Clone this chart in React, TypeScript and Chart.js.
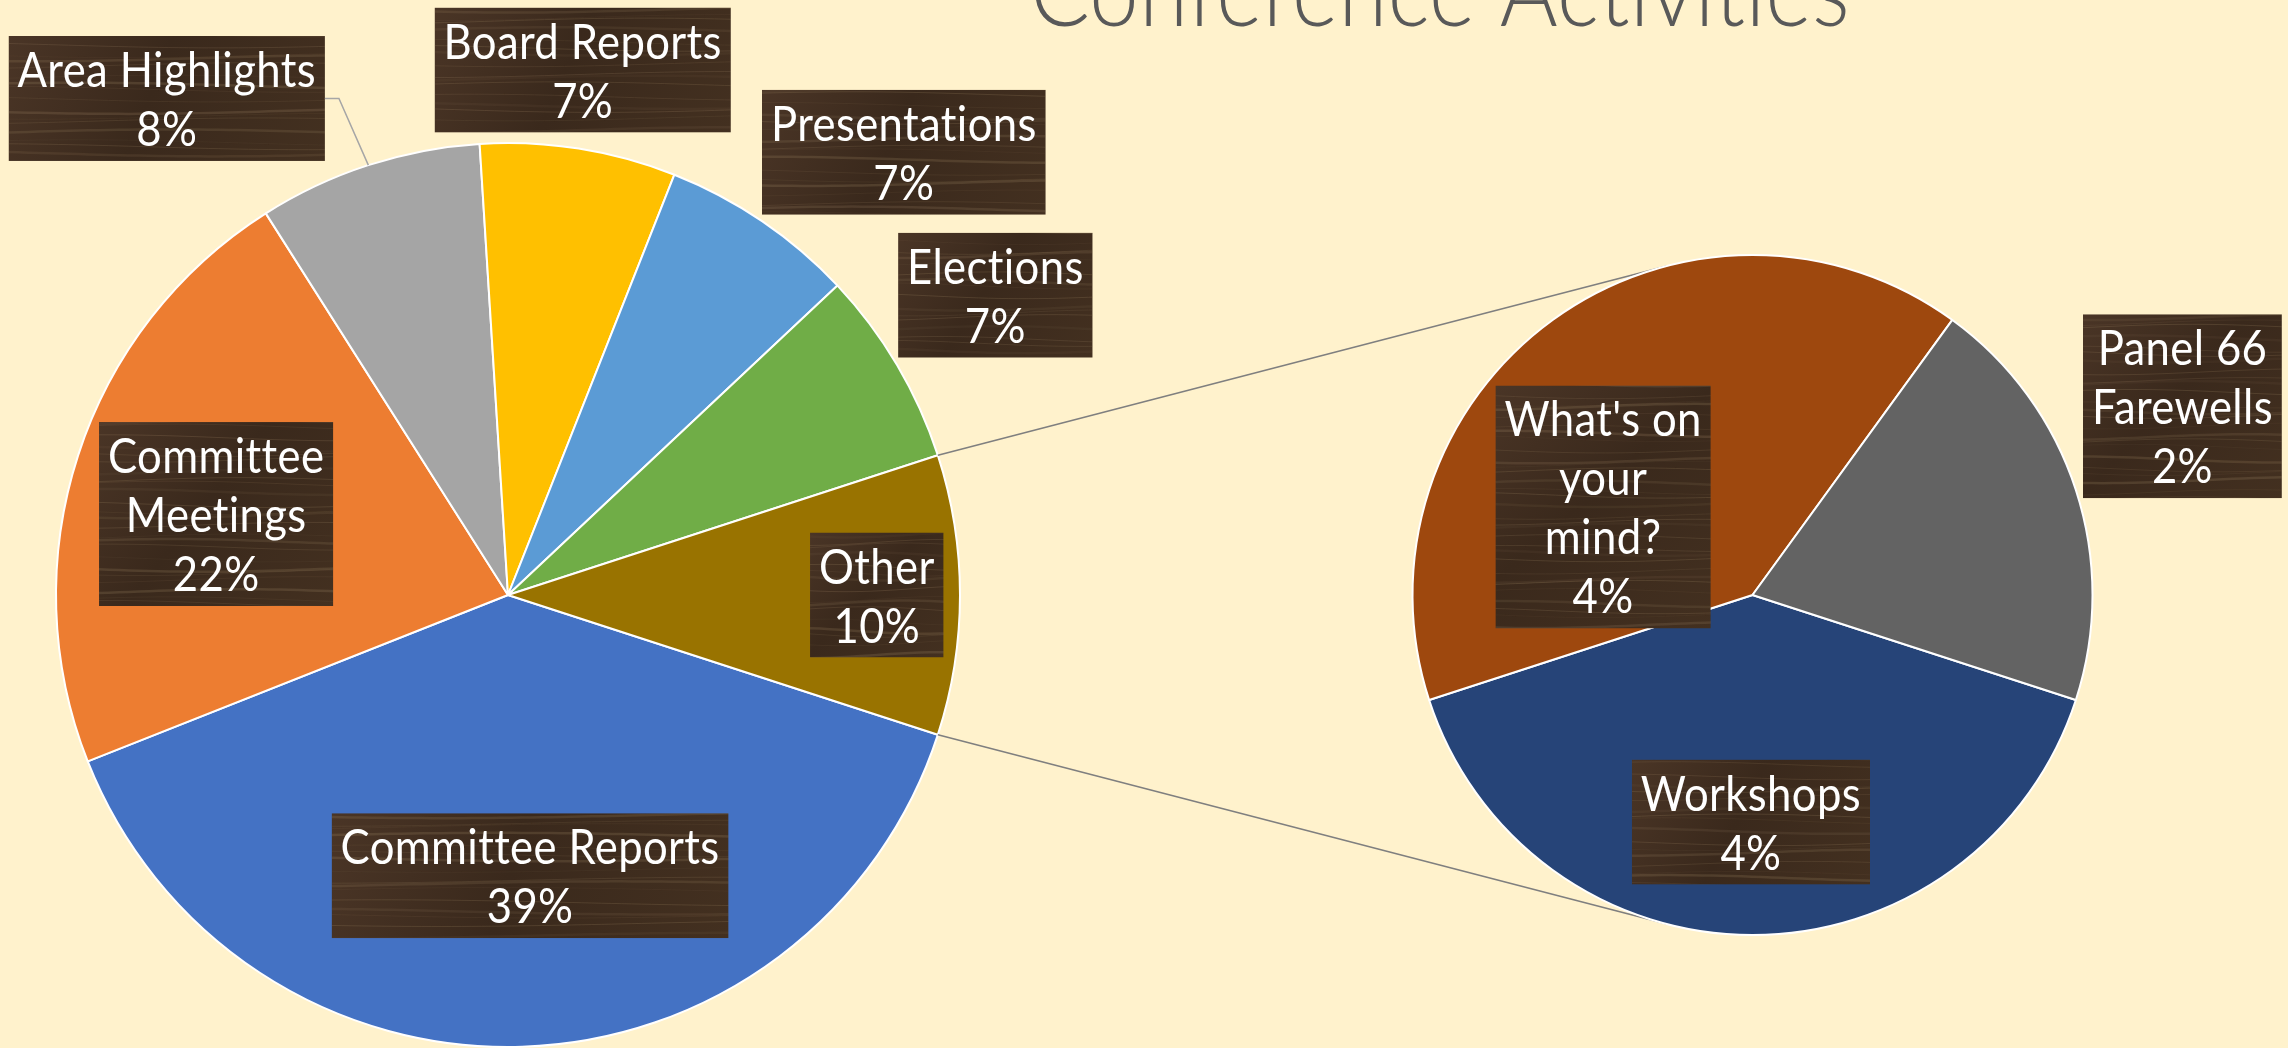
import React, { useEffect, useRef } from "react";
import { Chart, registerables } from "chart.js";

Chart.register(...registerables);

// ---------- data ----------
const TITLE = "Conference Activities";
const MAIN_LABELS = [
  "Committee Reports",
  "Committee Meetings",
  "Area Highlights",
  "Board Reports",
  "Presentations",
  "Elections",
  "Other",
];
const MAIN_VALUES = [39, 22, 8, 7, 7, 7, 10];
const SUB_LABELS = ["Workshops", "What's on your mind?", "Panel 66 Farewells"];
const SUB_VALUES = [4, 4, 2];

// ---------- styles / layout ----------
const MAIN_COLORS = ["#4472C4", "#ED7D31", "#A5A5A5", "#FFC000", "#5B9BD5", "#70AD47", "#997300"];
const SUB_COLORS = ["#264478", "#9E480E", "#636363"];
const W = 2288;
const H = 1048;
const BG = "#FFF2CC";
const OTHER_INDEX = 6;

// label box centre: [fraction of pie radius, angle in degrees clockwise from 3 o'clock]
const MAIN_LABEL_POS = [
  [0.623, 85.5],
  [0.67, 195.5],
  [1.333, 235.5],
  [1.173, 278.1],
  [1.314, 311.8],
  [1.266, 328.4],
  [0.816, 0],
];
const SUB_LABEL_POS = [
  [0.668, 90.4],
  [0.51, 210.5],
  [1.381, 336.3],
];
const LABEL_LINES: Record<string, string[]> = {
  "Committee Meetings": ["Committee", "Meetings"],
  "What's on your mind?": ["What's on", "your", "mind?"],
  "Panel 66 Farewells": ["Panel 66", "Farewells"],
};
const LEADER_LABELS = ["Area Highlights"];

const LINE_H = 59;
const PAD_X = 9;
const FIRST_BASELINE = 51;
const TEXT_FAMILY = "Lato, 'Open Sans', sans-serif";
const LABEL_FONT = `48px ${TEXT_FAMILY}`;
const LETTER_SPACING = "0.4px";

function setSpacing(ctx: any) {
  if ("letterSpacing" in ctx) ctx.letterSpacing = LETTER_SPACING;
}

let xScaleCache = 0;
function labelXScale(ctx: CanvasRenderingContext2D) {
  if (!xScaleCache) {
    ctx.save();
    ctx.font = LABEL_FONT;
    setSpacing(ctx);
    const w = ctx.measureText("Committee Reports").width;
    ctx.restore();
    xScaleCache = w > 0 ? 379 / w : 1;
  }
  return xScaleCache;
}

function drawWood(ctx: CanvasRenderingContext2D, x: number, y: number, w: number, h: number, seed: number) {
  ctx.save();
  ctx.beginPath();
  ctx.rect(x, y, w, h);
  ctx.clip();
  const g = ctx.createLinearGradient(x, y, x + w, y + h);
  g.addColorStop(0, "#4a3526");
  g.addColorStop(0.45, "#3a291c");
  g.addColorStop(1, "#433020");
  ctx.fillStyle = g;
  ctx.fillRect(x, y, w, h);
  const n = Math.ceil(h / 8) + 1;
  for (let i = 0; i < n; i++) {
    const yy = y + i * 8 + 3 * Math.sin(i * 1.7 + seed);
    const a = 0.06 + 0.16 * (0.5 + 0.5 * Math.sin(i * 2.3 + seed * 1.3));
    ctx.strokeStyle = `rgba(165,140,105,${a.toFixed(3)})`;
    ctx.lineWidth = i % 3 === 0 ? 2.5 : 1;
    ctx.beginPath();
    for (let xx = x; xx <= x + w + 10; xx += 10) {
      const yv = yy + 3 * Math.sin(((xx - x) / w) * 3.1 + i * 0.9 + seed);
      if (xx === x) ctx.moveTo(xx, yv);
      else ctx.lineTo(xx, yv);
    }
    ctx.stroke();
  }
  ctx.restore();
}

function drawLabel(ctx: CanvasRenderingContext2D, cx: number, cy: number, lines: string[], seed: number) {
  ctx.save();
  ctx.font = LABEL_FONT;
  setSpacing(ctx);
  const k = labelXScale(ctx);
  const widths = lines.map((l) => ctx.measureText(l).width * k);
  const w = Math.max(...widths) + 2 * PAD_X;
  const h = lines.length * LINE_H + 7;
  const x = cx - w / 2;
  const y = cy - h / 2;
  drawWood(ctx, x, y, w, h, seed);
  ctx.fillStyle = "#FFFFFF";
  ctx.textAlign = "center";
  ctx.textBaseline = "alphabetic";
  lines.forEach((l, i) => {
    ctx.save();
    ctx.translate(cx, y + FIRST_BASELINE + i * LINE_H);
    ctx.scale(k, 1);
    ctx.fillText(l, 0, 0);
    ctx.restore();
  });
  ctx.restore();
  return { x, y, w, h };
}

function pctText(v: number, total: number) {
  return `${Math.round((v / total) * 100)}%`;
}

function labelsFor(chart: any, names: string[], values: number[], pos: number[][], total: number, seedBase: number) {
  const ctx = chart.ctx as CanvasRenderingContext2D;
  const meta = chart.getDatasetMeta(0);
  meta.data.forEach((arc: any, i: number) => {
    const R = arc.outerRadius;
    const [rf, ang] = pos[i];
    const a = (ang * Math.PI) / 180;
    const cx = arc.x + rf * R * Math.cos(a);
    const cy = arc.y + rf * R * Math.sin(a);
    const name = names[i];
    const lines = [...(LABEL_LINES[name] || [name]), pctText(values[i], total)];
    const box = drawLabel(ctx, cx, cy, lines, seedBase + i * 2.1);
    if (LEADER_LABELS.includes(name)) {
      const mid = (arc.startAngle + arc.endAngle) / 2;
      const ex = arc.x + R * Math.cos(mid);
      const ey = arc.y + R * Math.sin(mid);
      ctx.save();
      ctx.strokeStyle = "#A6A6A6";
      ctx.lineWidth = 1.5;
      ctx.beginPath();
      ctx.moveTo(box.x + box.w, cy);
      ctx.lineTo(box.x + box.w + 14, cy);
      ctx.lineTo(ex, ey);
      ctx.stroke();
      ctx.restore();
    }
  });
}

const MAIN_TOTAL = MAIN_VALUES.reduce((a, b) => a + b, 0);
const SUB_TOTAL = SUB_VALUES.reduce((a, b) => a + b, 0);

export default function App() {
  const mainRef = useRef<HTMLCanvasElement>(null);
  const subRef = useRef<HTMLCanvasElement>(null);

  useEffect(() => {
    document.body.style.margin = "0";
    const otherFrac = MAIN_VALUES[OTHER_INDEX] / MAIN_TOTAL;
    const mainRotation = 90 + otherFrac * 180;
    const subRotation = 180 - (SUB_VALUES[0] / SUB_TOTAL) * 180;

    const mainDecor = {
      id: "mainDecor",
      afterDraw(chart: any) {
        const ctx = chart.ctx as CanvasRenderingContext2D;
        // title
        ctx.save();
        ctx.font = `300 98px ${TEXT_FAMILY}`;
        setSpacing(ctx);
        const tw = ctx.measureText(TITLE).width;
        const k = tw > 0 ? 820 / tw : 1;
        ctx.fillStyle = "#595959";
        ctx.textAlign = "center";
        ctx.textBaseline = "alphabetic";
        ctx.translate(1440, 26);
        ctx.scale(k, 1);
        ctx.fillText(TITLE, 0, 0);
        ctx.restore();
        labelsFor(chart, MAIN_LABELS, MAIN_VALUES, MAIN_LABEL_POS, MAIN_TOTAL, 0.7);
      },
    };

    const main = new Chart(mainRef.current!, {
      type: "pie",
      data: {
        labels: MAIN_LABELS,
        datasets: [
          {
            data: MAIN_VALUES,
            backgroundColor: MAIN_COLORS,
            borderColor: "#FFFFFF",
            borderWidth: 2,
          },
        ],
      },
      options: {
        responsive: false,
        animation: false,
        devicePixelRatio: 1,
        events: [],
        rotation: mainRotation,
        layout: { padding: { left: 55, top: 142, right: 1327, bottom: 0 } },
        plugins: { legend: { display: false }, tooltip: { enabled: false }, title: { display: false } },
      },
      plugins: [mainDecor],
    } as any);

    const subDecor = {
      id: "subDecor",
      beforeDatasetsDraw(chart: any) {
        const ctx = chart.ctx as CanvasRenderingContext2D;
        const other = main.getDatasetMeta(0).data[OTHER_INDEX] as any;
        const sub = chart.getDatasetMeta(0).data[0] as any;
        const C = { x: sub.x, y: sub.y };
        const r = sub.outerRadius;
        const R = other.outerRadius;
        const pts = [other.startAngle, other.endAngle].map((a: number) => ({
          x: other.x + R * Math.cos(a),
          y: other.y + R * Math.sin(a),
        }));
        ctx.save();
        ctx.strokeStyle = "#7F7F7F";
        ctx.lineWidth = 1.6;
        pts.forEach((P, idx) => {
          const dx = P.x - C.x;
          const dy = P.y - C.y;
          const d = Math.hypot(dx, dy);
          const th = Math.atan2(dy, dx);
          const al = Math.acos(Math.min(1, r / d));
          const c1 = { x: C.x + r * Math.cos(th + al), y: C.y + r * Math.sin(th + al) };
          const c2 = { x: C.x + r * Math.cos(th - al), y: C.y + r * Math.sin(th - al) };
          const T = idx === 0 ? (c1.y < c2.y ? c1 : c2) : c1.y > c2.y ? c1 : c2;
          ctx.beginPath();
          ctx.moveTo(P.x, P.y);
          ctx.lineTo(T.x, T.y);
          ctx.stroke();
        });
        ctx.restore();
      },
      afterDraw(chart: any) {
        labelsFor(chart, SUB_LABELS, SUB_VALUES, SUB_LABEL_POS, MAIN_TOTAL, 3.3);
      },
    };

    const sub = new Chart(subRef.current!, {
      type: "pie",
      data: {
        labels: SUB_LABELS,
        datasets: [
          {
            data: SUB_VALUES,
            backgroundColor: SUB_COLORS,
            borderColor: "#FFFFFF",
            borderWidth: 2,
          },
        ],
      },
      options: {
        responsive: false,
        animation: false,
        devicePixelRatio: 1,
        events: [],
        rotation: subRotation,
        layout: { padding: { left: 1411, top: 254, right: 194, bottom: 112 } },
        plugins: { legend: { display: false }, tooltip: { enabled: false }, title: { display: false } },
      },
      plugins: [subDecor],
    } as any);

    return () => {
      sub.destroy();
      main.destroy();
    };
  }, []);

  return (
    <div style={{ position: "fixed", left: 0, top: 0, width: W, height: H, background: BG, overflow: "hidden" }}>
      <canvas ref={mainRef} width={W} height={H} style={{ position: "absolute", left: 0, top: 0, width: W, height: H }} />
      <canvas ref={subRef} width={W} height={H} style={{ position: "absolute", left: 0, top: 0, width: W, height: H }} />
    </div>
  );
}
